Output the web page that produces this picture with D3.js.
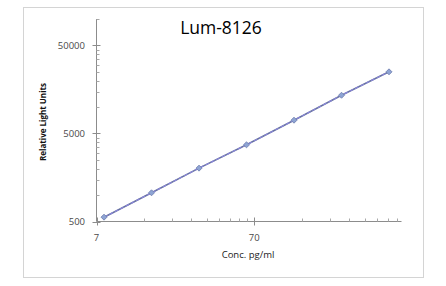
<!DOCTYPE html>
<html>
<head>
<meta charset="utf-8">
<script src="https://cdn.jsdelivr.net/npm/d3@7"></script>
<style>
  body { margin: 0; background: #fff; }
  svg { display: block; }
  text { font-family: "Open Sans", "Liberation Sans", sans-serif; }
</style>
</head>
<body>
<svg id="chart" width="446" height="286"></svg>
<script>
// data (two-fold dilution series)
const conc = [7.8125, 15.625, 31.25, 62.5, 125, 250, 500];
const rlu = [560, 1060, 2020, 3720, 7080, 13600, 25100];
const yTickLabels = [500, 5000, 50000];
const xTickLabels = [7, 70];

const svg = d3.select("#chart");

// outer frame
svg.append("rect")
    .attr("x", 23.5).attr("y", 7.5)
    .attr("width", 400).attr("height", 270)
    .attr("fill", "#fff")
    .attr("stroke", "#d4d4d4");

// plot area
const plotLeft = 96.5, plotRight = 401.5, plotTop = 19, plotBottom = 221.5;

const x = d3.scaleLog().domain([7, 600]).range([plotLeft, plotRight]);
const y = d3.scaleLog().domain([500, 100000]).range([plotBottom, plotTop]);

// minor ticks like excel: multiples of each decade start
const xMinor = [];
[7, 70].forEach(function (b) {
    for (let k = 2; k <= 9; k++) if (b * k <= 600) xMinor.push(b * k);
});
const yMinor = [];
[500, 5000, 50000].forEach(function (b) {
    for (let k = 2; k <= 9; k++) if (b * k <= 100000) yMinor.push(b * k);
});

const axisColor = "#8c8c8c";

// y axis
const gy = svg.append("g");
gy.append("line")
    .attr("x1", plotLeft).attr("x2", plotLeft)
    .attr("y1", plotTop).attr("y2", plotBottom)
    .attr("stroke", axisColor);
gy.selectAll("line.minor").data(yMinor).enter()
    .append("line").attr("class", "minor")
    .attr("x1", plotLeft).attr("x2", plotLeft + 3)
    .attr("y1", function (d) { return Math.round(y(d)) + 0.5; })
    .attr("y2", function (d) { return Math.round(y(d)) + 0.5; })
    .attr("stroke", "#a8a8a8");
gy.selectAll("line.major").data(yTickLabels).enter()
    .append("line").attr("class", "major")
    .attr("x1", plotLeft - 4).attr("x2", plotLeft + 4)
    .attr("y1", function (d) { return Math.round(y(d)) + 0.5; })
    .attr("y2", function (d) { return Math.round(y(d)) + 0.5; })
    .attr("stroke", axisColor);
gy.selectAll("text").data(yTickLabels).enter()
    .append("text")
    .attr("x", 85)
    .attr("y", function (d) { return y(d); })
    .attr("dy", "0.35em")
    .attr("text-anchor", "end")
    .attr("font-size", 9.5)
    .attr("fill", "#4a4a4a")
    .text(function (d) { return d; });

// x axis
const gx = svg.append("g");
gx.append("line")
    .attr("x1", plotLeft).attr("x2", plotRight)
    .attr("y1", plotBottom).attr("y2", plotBottom)
    .attr("stroke", axisColor);
gx.selectAll("line.minor").data(xMinor).enter()
    .append("line").attr("class", "minor")
    .attr("x1", function (d) { return Math.round(x(d)) + 0.5; })
    .attr("x2", function (d) { return Math.round(x(d)) + 0.5; })
    .attr("y1", plotBottom).attr("y2", plotBottom - 3)
    .attr("stroke", "#a8a8a8");
gx.selectAll("line.major").data(xTickLabels).enter()
    .append("line").attr("class", "major")
    .attr("x1", function (d) { return Math.round(x(d)) + 0.5; })
    .attr("x2", function (d) { return Math.round(x(d)) + 0.5; })
    .attr("y1", plotBottom - 4).attr("y2", plotBottom + 4)
    .attr("stroke", axisColor);
gx.selectAll("text").data(xTickLabels).enter()
    .append("text")
    .attr("x", function (d) { return x(d); })
    .attr("y", 241)
    .attr("text-anchor", "middle")
    .attr("font-size", 9.5)
    .attr("fill", "#4a4a4a")
    .text(function (d) { return d; });

// titles
svg.append("text")
    .attr("x", 221).attr("y", 34)
    .attr("text-anchor", "middle")
    .attr("font-size", 17.5)
    .attr("font-weight", 500)
    .attr("fill", "#000")
    .text("Lum-8126");

svg.append("text")
    .attr("transform", "translate(46,122) rotate(-90)")
    .attr("text-anchor", "middle")
    .attr("font-size", 8)
    .attr("font-weight", "bold")
    .attr("fill", "#111")
    .text("Relative Light Units");

svg.append("text")
    .attr("x", 248).attr("y", 258)
    .attr("text-anchor", "middle")
    .attr("font-size", 9.5)
    .attr("fill", "#222")
    .text("Conc. pg/ml");

// series
const pts = conc.map(function (c, i) { return [c, rlu[i]]; });
const line = d3.line()
    .x(function (d) { return x(d[0]); })
    .y(function (d) { return y(d[1]); });

svg.append("path")
    .datum(pts)
    .attr("d", line)
    .attr("fill", "none")
    .attr("stroke", "#66729e")
    .attr("stroke-width", 1.6);

// trend line overlay (dashed purple)
svg.append("path")
    .datum(pts)
    .attr("d", line)
    .attr("fill", "none")
    .attr("stroke", "#8a86d8")
    .attr("stroke-width", 1.2)
    .attr("stroke-dasharray", "4,2");

// diamond markers: squares turned 45 degrees
svg.selectAll("path.marker").data(pts).enter()
    .append("path").attr("class", "marker")
    .attr("transform", function (d) { return "translate(" + x(d[0]) + "," + y(d[1]) + ") rotate(45)"; })
    .attr("d", d3.symbol().type(d3.symbolSquare).size(18))
    .attr("fill", "#8ea4d4")
    .attr("stroke", "#7080b0")
    .attr("stroke-width", 0.8);
</script>
</body>
</html>
